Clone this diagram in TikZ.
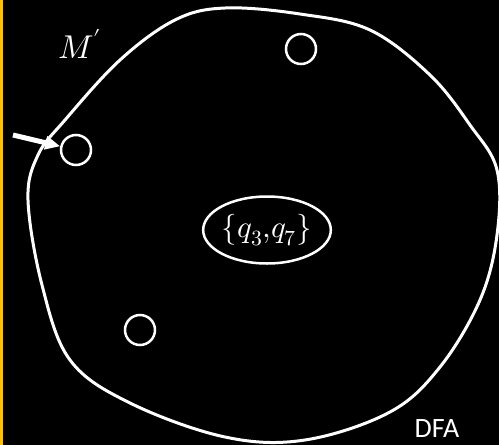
\documentclass[tikz,border=0pt]{standalone}
\usepackage{fontspec}
\usepackage{unicode-math}
\setmathfont{Latin Modern Math}
\setsansfont{Carlito}
\usepackage{tikz}
\usetikzlibrary{positioning, shapes.geometric, arrows.meta}
\definecolor{slidebg}{RGB}{0, 0, 0}
\definecolor{accentbar}{RGB}{255, 192, 0}
\definecolor{chalk}{RGB}{255, 255, 255}

\begin{document}
\begin{tikzpicture}[
    x=1pt, y=-1pt,
    state/.style={circle, draw=chalk, line width=2.5pt, minimum size=30pt, inner sep=0pt},
    setstate/.style={ellipse, draw=chalk, line width=2.5pt, minimum width=125pt, minimum height=67pt, inner sep=0pt, text=chalk, font=\fontsize{31}{34}\selectfont},
    blob/.style={draw=chalk, line width=3pt},
    label/.style={text=chalk, inner sep=0pt}
]
    \useasboundingbox (0,0) rectangle (499,445);
    \fill[slidebg] (0,0) rectangle (499,445);
    \fill[accentbar] (0,0) rectangle (3,445);

    % machine boundary
    \draw[blob] plot[smooth cycle, tension=0.6] coordinates {
        (120,60) (175,20) (225,8) (300,14) (370,30) (430,75) (470,125)
        (497,170) (497,235) (480,300) (440,367) (390,412) (305,440)
        (225,437) (130,403) (70,360) (42,285) (28,200) (38,155) (65,120)};

    \node[label, font=\fontsize{33}{36}\selectfont, anchor=base] (mname) at (80,58) {$M'$};
    \node[label, font=\sffamily\fontsize{28}{32}\selectfont, anchor=base] (kind) at (437,437) {DFA};

    \node[state] (q0) at (76,150) {};
    \node[state] (qa) at (301,49) {};
    \node[state] (qb) at (140,330) {};
    \node[setstate] (q37) at (267,230) {$\{q_3{,}q_7\}$};

    \coordinate (in) at (13,135);
    \draw[-{Triangle[length=15pt, width=13pt]}, draw=chalk, fill=chalk, line width=5pt] (in) -- (q0);
\end{tikzpicture}
\end{document}
